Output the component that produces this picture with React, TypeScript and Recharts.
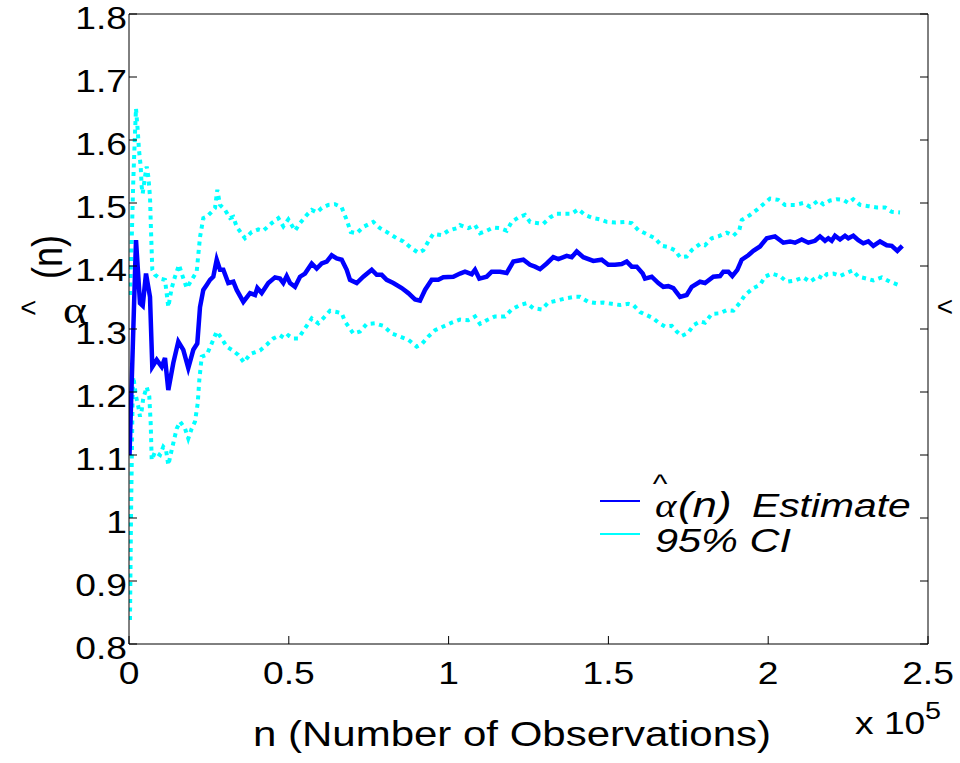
import React from "react";
import { LineChart, Line, XAxis, YAxis, Legend } from "recharts";

// running estimate alpha-hat(n) as [n, value]
const estimate: [number, number][] = [
  [160, 1.1], [2190, 1.441], [3440, 1.341], [4290, 1.337], [5320, 1.388], [6570, 1.351],
  [7290, 1.24], [8670, 1.251], [10230, 1.24], [11260, 1.254], [12300, 1.203], [13860, 1.246],
  [15430, 1.28], [16990, 1.267], [18550, 1.238], [20120, 1.267], [21370, 1.277], [22220, 1.335],
  [23250, 1.362], [24310, 1.37], [25340, 1.378], [26380, 1.383], [27440, 1.41], [28470, 1.394],
  [29510, 1.394], [31070, 1.373], [32640, 1.375], [33700, 1.362], [35770, 1.343], [37860, 1.357],
  [39430, 1.354], [40150, 1.365], [41520, 1.357], [43590, 1.373], [45680, 1.382], [47250, 1.38],
  [48280, 1.373], [49340, 1.384], [50380, 1.373], [51940, 1.367], [53510, 1.383], [55070, 1.388],
  [57170, 1.404], [58730, 1.396], [60300, 1.404], [61860, 1.407], [63420, 1.417], [64990, 1.412],
  [66550, 1.41], [68120, 1.394], [69150, 1.378], [71250, 1.373], [73310, 1.383], [75940, 1.394],
  [77510, 1.386], [79070, 1.386], [80630, 1.378], [82700, 1.373], [85330, 1.365], [87390, 1.357],
  [89490, 1.347], [91050, 1.345], [92620, 1.362], [94710, 1.378], [96780, 1.378], [98350, 1.382],
  [101470, 1.383], [103570, 1.388], [105130, 1.391], [107230, 1.387], [108260, 1.394], [109610, 1.38],
  [111920, 1.383], [113490, 1.391], [116090, 1.391], [118180, 1.389], [120250, 1.407], [123380, 1.41],
  [125470, 1.402], [127040, 1.399], [128600, 1.395], [130700, 1.404], [132760, 1.414], [134330, 1.411],
  [136960, 1.416], [138520, 1.414], [140090, 1.423], [142150, 1.414], [145280, 1.408], [147910, 1.41],
  [149970, 1.402], [152070, 1.402], [154160, 1.403], [155730, 1.407], [157300, 1.399], [158860, 1.399],
  [160740, 1.388], [161460, 1.38], [163550, 1.383], [165620, 1.373], [167180, 1.367], [168750, 1.368],
  [170310, 1.365], [172410, 1.351], [174500, 1.354], [176070, 1.367], [178670, 1.375], [180230, 1.373],
  [182830, 1.383], [184930, 1.384], [185960, 1.391], [187530, 1.391], [188780, 1.384], [190340, 1.394],
  [191720, 1.41], [193780, 1.417], [195350, 1.424], [197440, 1.431], [199540, 1.444], [202130, 1.447],
  [204730, 1.437], [206830, 1.439], [208390, 1.437], [210490, 1.442], [212550, 1.437], [214650, 1.44],
  [216210, 1.447], [217780, 1.44], [218810, 1.444], [219870, 1.44], [220900, 1.448], [222470, 1.442],
  [224030, 1.448], [225070, 1.444], [226630, 1.448], [228200, 1.441], [229760, 1.436], [231330, 1.439],
  [232890, 1.432], [234990, 1.439], [237080, 1.433], [238650, 1.432], [240400, 1.424], [241960, 1.432],
];

// upper 95% bound
const ciUpper: [number, number][] = [
  [310, 1.354], [840, 1.441], [1350, 1.537], [1880, 1.611], [2190, 1.65], [2720, 1.616],
  [3130, 1.584], [3660, 1.558], [3970, 1.526], [4290, 1.515], [5010, 1.542], [5540, 1.558],
  [6040, 1.542], [6570, 1.51], [6880, 1.457], [7290, 1.394], [8140, 1.386], [9700, 1.38],
  [11260, 1.378], [12300, 1.335], [13360, 1.365], [14390, 1.383], [15650, 1.402], [16490, 1.388],
  [18050, 1.365], [19620, 1.378], [21180, 1.391], [22220, 1.446], [23250, 1.476], [24310, 1.478],
  [25880, 1.486], [26910, 1.492], [27630, 1.521], [28470, 1.497], [30040, 1.489], [31600, 1.476],
  [32640, 1.478], [33700, 1.462], [36300, 1.444], [38390, 1.454], [40460, 1.458], [42020, 1.456],
  [44650, 1.468], [46720, 1.476], [48280, 1.463], [49850, 1.474], [51940, 1.456], [53510, 1.468],
  [55600, 1.481], [57170, 1.489], [58730, 1.485], [60300, 1.492], [62360, 1.497], [64460, 1.498],
  [66550, 1.493], [68120, 1.473], [69370, 1.454], [71250, 1.452], [73310, 1.462], [76440, 1.47],
  [78540, 1.46], [80630, 1.454], [83760, 1.444], [85830, 1.439], [88460, 1.428], [90520, 1.421],
  [92090, 1.425], [93650, 1.439], [95220, 1.451], [97840, 1.449], [99910, 1.456], [102540, 1.46],
  [103570, 1.465], [106170, 1.46], [108260, 1.465], [109830, 1.452], [111920, 1.456], [113990, 1.461],
  [116090, 1.46], [118180, 1.456], [119750, 1.47], [121810, 1.477], [123910, 1.481], [125470, 1.47],
  [128070, 1.468], [129630, 1.467], [131730, 1.477], [133820, 1.483], [135890, 1.483], [138520, 1.483],
  [140590, 1.49], [142680, 1.481], [145280, 1.476], [147380, 1.474], [149470, 1.47], [152070, 1.469],
  [155200, 1.47], [157300, 1.468], [159360, 1.457], [161460, 1.452], [164590, 1.444], [166680, 1.432],
  [168750, 1.43], [170840, 1.425], [172410, 1.414], [174500, 1.415], [176070, 1.425], [178670, 1.435],
  [180230, 1.433], [182330, 1.444], [184390, 1.447], [187020, 1.453], [189080, 1.448], [190960, 1.457],
  [191720, 1.473], [194320, 1.481], [196410, 1.489], [198470, 1.498], [200570, 1.507], [203170, 1.505],
  [205260, 1.497], [208390, 1.497], [210990, 1.5], [213080, 1.494], [215680, 1.504], [217250, 1.498],
  [219340, 1.504], [221440, 1.506], [223500, 1.505], [225070, 1.5], [226630, 1.506], [228730, 1.497],
  [231330, 1.495], [233950, 1.493], [236550, 1.493], [238650, 1.486], [241250, 1.485],
];

// lower 95% bound
const ciLower: [number, number][] = [
  [310, 0.838], [630, 1.002], [1160, 1.203], [1350, 1.224], [2190, 1.193], [2910, 1.177],
  [3440, 1.161], [3970, 1.171], [4470, 1.19], [5540, 1.208], [6350, 1.193], [6790, 1.15],
  [7100, 1.092], [8140, 1.105], [9700, 1.1], [10730, 1.113], [11580, 1.108], [12300, 1.084],
  [13360, 1.108], [14930, 1.142], [15960, 1.153], [17520, 1.142], [18550, 1.126], [19620, 1.142],
  [20650, 1.153], [21500, 1.182], [22000, 1.219], [22750, 1.256], [24310, 1.259], [25880, 1.277],
  [27440, 1.296], [29010, 1.285], [30570, 1.272], [32130, 1.267], [34200, 1.259], [35980, 1.247],
  [37860, 1.26], [40990, 1.266], [43090, 1.275], [45150, 1.285], [47250, 1.29], [48810, 1.285],
  [49850, 1.29], [51410, 1.285], [52970, 1.285], [55070, 1.301], [57170, 1.317], [59230, 1.309],
  [61330, 1.32], [62890, 1.329], [64990, 1.327], [66550, 1.325], [67590, 1.312], [70180, 1.293],
  [72280, 1.296], [74370, 1.308], [76970, 1.309], [79570, 1.305], [82200, 1.293], [84800, 1.288],
  [87390, 1.283], [90020, 1.272], [91590, 1.276], [93650, 1.288], [95750, 1.298], [98350, 1.304],
  [100970, 1.31], [103570, 1.315], [106170, 1.314], [108260, 1.32], [109830, 1.308], [111920, 1.314],
  [114520, 1.32], [117650, 1.32], [119750, 1.331], [122340, 1.338], [124440, 1.341], [126510, 1.333],
  [129140, 1.331], [131200, 1.342], [133820, 1.345], [136960, 1.349], [139550, 1.351], [141120, 1.351],
  [143710, 1.343], [146340, 1.341], [148410, 1.342], [151040, 1.34], [153630, 1.338], [156230, 1.34],
  [157800, 1.338], [159890, 1.327], [161990, 1.322], [164050, 1.317], [165620, 1.31], [167710, 1.304],
  [169810, 1.305], [171370, 1.296], [172940, 1.289], [175000, 1.294], [176570, 1.306], [178670, 1.312],
  [180230, 1.31], [182330, 1.324], [184930, 1.325], [187020, 1.33], [189080, 1.329], [191180, 1.342],
  [192740, 1.354], [195350, 1.365], [197440, 1.37], [199010, 1.383], [201100, 1.388], [203700, 1.384],
  [205790, 1.375], [208390, 1.377], [210990, 1.382], [213080, 1.375], [215680, 1.384], [217250, 1.38],
  [218310, 1.387], [220380, 1.388], [222470, 1.384], [224570, 1.389], [226440, 1.393], [228200, 1.383],
  [230820, 1.38], [232890, 1.377], [235520, 1.382], [238120, 1.375], [240710, 1.37],
];

const xTicks = [0, 50000, 100000, 150000, 200000, 250000];
const xTickLabels = ["0", "0.5", "1", "1.5", "2", "2.5"];
const yTicks = [0.8, 0.9, 1, 1.1, 1.2, 1.3, 1.4, 1.5, 1.6, 1.7, 1.8];

const toRows = (pts: [number, number][]) => pts.map(([n, a]) => ({ n, a }));

const FONT = "'Liberation Sans', Arial, Helvetica, sans-serif";
const SERIF = "'Liberation Serif', 'DejaVu Serif', serif";
const SX = 1.2; // the original figure is stretched sideways, text included

const LeftTick = ({ x, y, payload }: any) => (
  <g>
    <line x1={x} x2={x + 8} y1={y} y2={y} stroke="#000" />
    <g transform={`translate(${x - 2},${y + 15}) scale(${SX},1)`}>
      <text textAnchor="end" fontSize={31} fontFamily={FONT} fill="#000">
        {payload.value}
      </text>
    </g>
  </g>
);

const RightTick = ({ x, y }: any) => (
  <line x1={x} x2={x - 8} y1={y} y2={y} stroke="#000" />
);

const BottomTick = ({ x, y, index }: any) => (
  <g>
    <line x1={x} x2={x} y1={y} y2={y - 8} stroke="#000" />
    <g transform={`translate(${x},${y + 40}) scale(${SX},1)`}>
      <text textAnchor="middle" fontSize={31} fontFamily={FONT} fill="#000">
        {xTickLabels[index]}
      </text>
    </g>
  </g>
);

const TopTick = ({ x, y }: any) => (
  <line x1={x} x2={x} y1={y} y2={y + 8} stroke="#000" />
);

const XLabel = () => (
  <g fill="#000" fontFamily={FONT}>
    <g transform={`translate(512,746) scale(${SX},1)`}>
      <text textAnchor="middle" fontSize={35}>
        n (Number of Observations)
      </text>
    </g>
    <g transform={`translate(855,734) scale(${SX},1)`}>
      <text fontSize={31}>x 10</text>
    </g>
    <g transform={`translate(925,719) scale(${SX},1)`}>
      <text fontSize={24}>5</text>
    </g>
  </g>
);

const YLabel = () => (
  <g fill="#000" fontFamily={FONT}>
    <g transform={`translate(62,257) scale(${SX},1) rotate(-90)`}>
      <text textAnchor="middle" fontSize={36}>(n)</text>
    </g>
    <text x={28.5} y={317} textAnchor="middle" fontSize={28}>
      {"<"}
    </text>
    <g transform={`translate(63,323) scale(${SX},1)`}>
      <text fontSize={38} fontFamily={SERIF}>α</text>
    </g>
    {/* edge of the neighbouring panel's label */}
    <text x={945} y={316} textAnchor="middle" fontSize={28}>
      {"<"}
    </text>
  </g>
);

const LegendBox = () => (
  <svg width={340} height={100} style={{ overflow: "visible" }}>
    <line x1={10} x2={50} y1={31} y2={31} stroke="#0000ff" strokeWidth={2} />
    <line x1={10} x2={50} y1={64} y2={64} stroke="#00ffff" strokeWidth={2} />
    <g fill="#000" fontFamily={FONT} fontStyle="italic">
      <g transform={`translate(70,23) scale(${SX},1)`}>
        <text textAnchor="middle" fontSize={26} fontStyle="normal">^</text>
      </g>
      <g transform={`translate(65,47) scale(${SX},1)`}>
        <text fontSize={34} fontFamily={SERIF}>α</text>
      </g>
      <g transform={`translate(88,47) scale(1.25,1)`}>
        <text fontSize={35}>(n)</text>
      </g>
      <g transform={`translate(162,47) scale(1.2,1)`}>
        <text fontSize={34}>Estimate</text>
      </g>
      <g transform={`translate(65,82) scale(1.22,1)`}>
        <text fontSize={34}>95% CI</text>
      </g>
    </g>
  </svg>
);

export default function App() {
  return (
    <div
      style={{
        position: "absolute",
        left: 0,
        top: 0,
        width: 960,
        height: 763,
        overflow: "hidden",
        background: "#fff",
      }}
    >
      <LineChart
        width={960}
        height={763}
        margin={{ top: 13, right: 31, bottom: 0, left: 0 }}
      >
        <XAxis
          xAxisId="b"
          dataKey="n"
          type="number"
          domain={[0, 250000]}
          ticks={xTicks}
          allowDataOverflow
          height={119}
          tickSize={0}
          tickMargin={0}
          tickLine={false}
          tick={<BottomTick />}
          axisLine={{ stroke: "#000" }}
          label={<XLabel />}
        />
        <XAxis
          xAxisId="t"
          orientation="top"
          type="number"
          domain={[0, 250000]}
          ticks={xTicks}
          allowDataOverflow
          height={1}
          tickSize={0}
          tickMargin={0}
          tickLine={false}
          tick={<TopTick />}
          axisLine={{ stroke: "#000" }}
        />
        <YAxis
          yAxisId="l"
          type="number"
          domain={[0.8, 1.8]}
          ticks={yTicks}
          allowDataOverflow
          width={129}
          tickSize={0}
          tickMargin={0}
          tickLine={false}
          tick={<LeftTick />}
          axisLine={{ stroke: "#000" }}
          label={<YLabel />}
        />
        <YAxis
          yAxisId="r"
          orientation="right"
          type="number"
          domain={[0.8, 1.8]}
          ticks={yTicks}
          allowDataOverflow
          width={1}
          tickSize={0}
          tickMargin={0}
          tickLine={false}
          tick={<RightTick />}
          axisLine={{ stroke: "#000" }}
        />
        <Legend
          layout="horizontal"
          align="center"
          verticalAlign="middle"
          content={<LegendBox />}
          wrapperStyle={{ left: 590, top: 470, width: 340, height: 100 }}
        />
        <Line
          data={toRows(ciUpper)}
          dataKey="a"
          xAxisId="b"
          yAxisId="l"
          type="linear"
          stroke="#00ffff"
          strokeWidth={4}
          strokeDasharray="4 4.5"
          dot={false}
          isAnimationActive={false}
        />
        <Line
          data={toRows(ciLower)}
          dataKey="a"
          xAxisId="b"
          yAxisId="l"
          type="linear"
          stroke="#00ffff"
          strokeWidth={4}
          strokeDasharray="4 4.5"
          dot={false}
          isAnimationActive={false}
        />
        <Line
          data={toRows(estimate)}
          dataKey="a"
          xAxisId="b"
          yAxisId="l"
          type="linear"
          stroke="#0000ff"
          strokeWidth={4.5}
          dot={false}
          isAnimationActive={false}
        />
      </LineChart>
    </div>
  );
}
